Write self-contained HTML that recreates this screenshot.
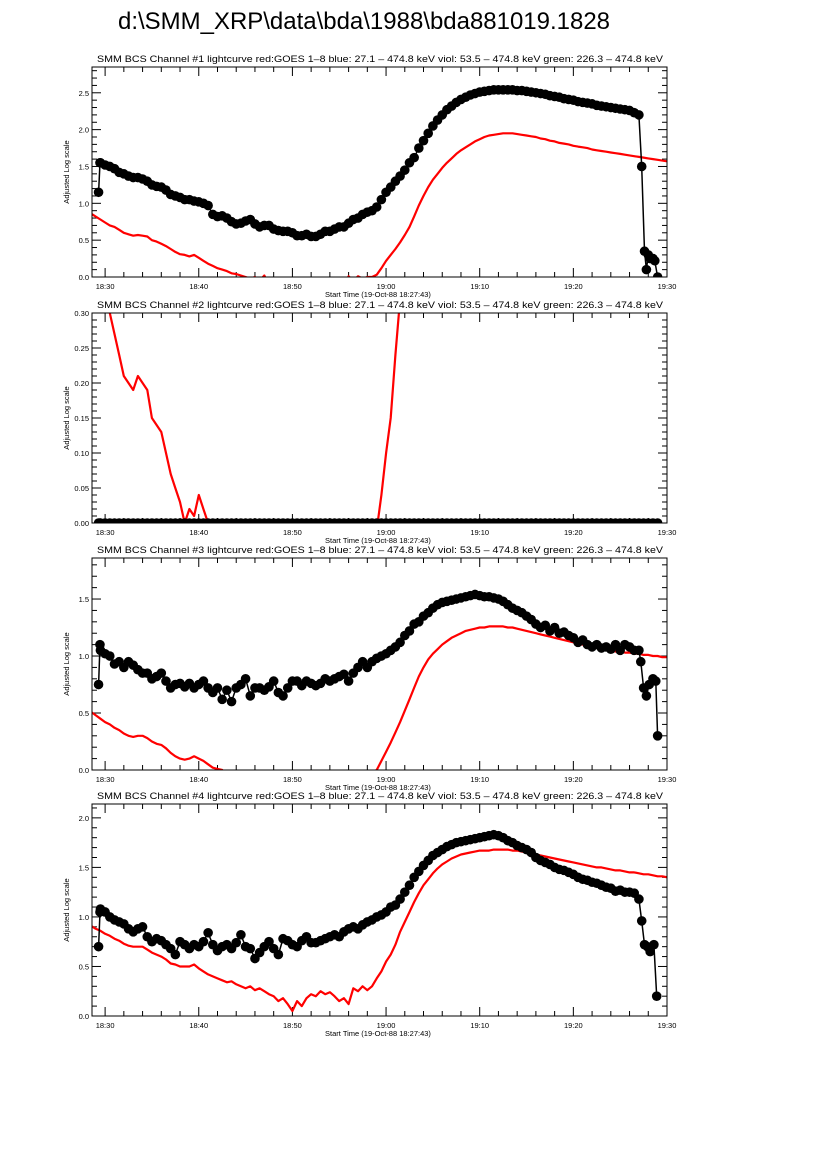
<!DOCTYPE html>
<html><head><meta charset="utf-8"><style>
body{margin:0;background:#fff;}
svg{display:block;font-family:"Liberation Sans",sans-serif;}
</style></head><body>
<svg id="chart" width="826" height="1169" viewBox="0 0 826 1169">
<text x="364" y="29" font-size="24" text-anchor="middle" textLength="492" lengthAdjust="spacingAndGlyphs">d:\SMM_XRP\data\bda\1988\bda881019.1828</text>
</svg>
<script>
// time grids (minutes after 18:00)
const redTimes = []; for (let i = 0; i <= 123; i++) redTimes.push(28.5 + 0.5 * i);
const blackTimes = []; for (let i = 0; i <= 115; i++) blackTimes.push(29.5 + 0.5 * i);
const xTickMinutes = [30, 40, 50, 60, 70, 80, 90];
const xTickLabels = ["18:30", "18:40", "18:50", "19:00", "19:10", "19:20", "19:30"];

const p1Black = [1.55,1.52,1.50,1.47,1.42,1.40,1.37,1.35,1.35,1.33,1.30,1.25,1.23,1.22,1.18,1.12,1.10,1.08,1.05,1.05,1.03,1.02,1.00,0.97,0.85,0.82,0.83,0.80,0.75,0.72,0.73,0.76,0.78,0.72,0.68,0.70,0.70,0.65,0.63,0.62,0.62,0.60,0.56,0.56,0.58,0.55,0.55,0.58,0.62,0.62,0.65,0.68,0.68,0.73,0.78,0.80,0.85,0.88,0.90,0.95,1.05,1.15,1.22,1.30,1.37,1.45,1.55,1.62,1.75,1.85,1.95,2.05,2.13,2.20,2.27,2.32,2.37,2.41,2.44,2.47,2.49,2.51,2.52,2.53,2.54,2.54,2.54,2.54,2.54,2.53,2.53,2.52,2.51,2.50,2.49,2.48,2.46,2.45,2.44,2.42,2.41,2.40,2.38,2.37,2.36,2.35,2.33,2.32,2.31,2.30,2.29,2.28,2.27,2.26,2.23,2.20];
const p1HeadT = [29.3, 29.45], p1HeadV = [1.15, 1.55];
const p1TailT = [87.3, 87.6, 87.8, 88.0, 88.2, 88.5, 88.7, 89.0], p1TailV = [1.50, 0.35, 0.10, 0.30, 0.25, 0.25, 0.22, 0.0];
const p1Red = [0.86,0.82,0.78,0.74,0.70,0.68,0.64,0.60,0.58,0.56,0.57,0.56,0.55,0.50,0.48,0.45,0.42,0.38,0.34,0.31,0.30,0.28,0.30,0.26,0.22,0.18,0.15,0.12,0.10,0.08,0.05,0.04,0.02,0.00,-0.02,0.0,-0.05,0.02,-0.1,-0.1,-0.1,-0.1,-0.1,-0.1,-0.1,-0.1,-0.1,-0.1,-0.1,-0.1,-0.1,-0.1,-0.1,-0.1,-0.1,0.01,-0.05,0.01,-0.02,0.0,0.0,0.03,0.12,0.22,0.30,0.38,0.47,0.57,0.68,0.82,0.97,1.10,1.22,1.32,1.40,1.48,1.55,1.61,1.67,1.72,1.76,1.80,1.84,1.87,1.90,1.92,1.93,1.94,1.95,1.95,1.95,1.94,1.93,1.92,1.91,1.90,1.88,1.87,1.85,1.84,1.82,1.81,1.80,1.78,1.77,1.76,1.75,1.73,1.72,1.71,1.70,1.69,1.68,1.67,1.66,1.65,1.64,1.63,1.62,1.61,1.60,1.59,1.58,1.57];

const p2Black = [0,0,0,0,0,0,0,0,0,0,0,0,0,0,0,0,0,0,0,0,0,0,0,0,0,0,0,0,0,0,0,0,0,0,0,0,0,0,0,0,0,0,0,0,0,0,0,0,0,0,0,0,0,0,0,0,0,0,0,0,0,0,0,0,0,0,0,0,0,0,0,0,0,0,0,0,0,0,0,0,0,0,0,0,0,0,0,0,0,0,0,0,0,0,0,0,0,0,0,0,0,0,0,0,0,0,0,0,0,0,0,0,0,0,0,0];
const p2HeadT = [29.3, 29.45], p2HeadV = [0, 0];
const p2TailT = [87.5, 88.0, 88.5, 89.0], p2TailV = [0, 0, 0, 0];
const p2Red = [0.50,0.45,0.40,0.34,0.30,0.27,0.24,0.21,0.20,0.19,0.21,0.20,0.19,0.15,0.14,0.13,0.10,0.07,0.05,0.03,0.0,0.02,0.01,0.04,0.02,0.0,-0.05,-0.05,-0.05,-0.05,-0.05,-0.05,-0.05,-0.05,-0.05,-0.05,-0.05,-0.05,-0.05,-0.05,-0.05,-0.05,-0.05,-0.05,-0.05,-0.05,-0.05,-0.05,-0.05,-0.05,-0.05,-0.05,-0.05,-0.05,-0.05,-0.05,-0.05,-0.05,-0.05,-0.05,-0.05,-0.01,0.04,0.10,0.15,0.24,0.32,0.45,0.6,0.8,1.0,1.2,1.3,1.4,1.5,1.6,1.7,1.8,1.8,1.9,1.9,1.9,1.9,1.9,1.9,1.9,1.9,1.9,1.9,1.9,1.9,1.9,1.9,1.9,1.9,1.9,1.9,1.9,1.9,1.9,1.9,1.9,1.9,1.9,1.9,1.9,1.9,1.9,1.9,1.9,1.9,1.9,1.9,1.9,1.9,1.9,1.9,1.9,1.9,1.9,1.9,1.9,1.9,1.9];

const p3Black = [1.05,1.02,1.00,0.93,0.95,0.90,0.95,0.92,0.88,0.85,0.85,0.80,0.82,0.85,0.78,0.72,0.75,0.76,0.73,0.76,0.72,0.75,0.78,0.72,0.68,0.72,0.62,0.70,0.60,0.72,0.75,0.80,0.65,0.72,0.72,0.70,0.73,0.78,0.68,0.65,0.72,0.78,0.78,0.74,0.78,0.76,0.74,0.76,0.80,0.78,0.80,0.82,0.84,0.78,0.85,0.90,0.95,0.90,0.95,0.98,1.00,1.02,1.05,1.08,1.12,1.18,1.22,1.28,1.30,1.35,1.38,1.42,1.45,1.47,1.48,1.49,1.50,1.51,1.52,1.53,1.54,1.53,1.52,1.52,1.51,1.50,1.48,1.45,1.42,1.40,1.38,1.35,1.32,1.28,1.25,1.27,1.22,1.25,1.20,1.21,1.18,1.16,1.12,1.14,1.10,1.08,1.10,1.07,1.08,1.06,1.10,1.05,1.10,1.08,1.05,1.05];
const p3HeadT = [29.3, 29.45], p3HeadV = [0.75, 1.10];
const p3TailT = [87.2, 87.5, 87.8, 88.1, 88.5, 88.8, 89.0], p3TailV = [0.95, 0.72, 0.65, 0.75, 0.80, 0.78, 0.30];
const p3Red = [0.51,0.48,0.45,0.42,0.40,0.37,0.35,0.32,0.30,0.29,0.30,0.30,0.28,0.25,0.23,0.22,0.19,0.15,0.12,0.10,0.09,0.10,0.12,0.10,0.08,0.05,0.02,0.01,0.0,-0.05,-0.1,-0.1,-0.1,-0.1,-0.1,-0.1,-0.1,-0.1,-0.1,-0.1,-0.1,-0.1,-0.1,-0.1,-0.1,-0.1,-0.1,-0.1,-0.1,-0.1,-0.1,-0.1,-0.1,-0.1,-0.1,-0.1,-0.1,-0.1,-0.1,-0.1,-0.02,0.0,0.08,0.16,0.24,0.33,0.42,0.52,0.62,0.72,0.82,0.90,0.97,1.02,1.06,1.10,1.13,1.16,1.18,1.20,1.22,1.23,1.24,1.25,1.25,1.26,1.26,1.26,1.26,1.25,1.25,1.24,1.23,1.22,1.21,1.20,1.19,1.18,1.17,1.16,1.15,1.14,1.13,1.12,1.11,1.10,1.09,1.08,1.07,1.06,1.06,1.05,1.04,1.04,1.03,1.03,1.02,1.02,1.01,1.01,1.00,1.00,0.99,0.99];

const p4Black = [1.08,1.05,1.00,0.97,0.95,0.93,0.88,0.85,0.88,0.90,0.80,0.75,0.78,0.76,0.72,0.68,0.62,0.75,0.72,0.68,0.72,0.70,0.75,0.84,0.72,0.66,0.70,0.72,0.68,0.74,0.82,0.70,0.68,0.58,0.64,0.70,0.75,0.68,0.62,0.78,0.76,0.72,0.70,0.76,0.80,0.74,0.74,0.76,0.78,0.80,0.82,0.80,0.85,0.88,0.90,0.88,0.92,0.95,0.97,1.00,1.02,1.05,1.10,1.12,1.18,1.25,1.32,1.40,1.46,1.52,1.57,1.62,1.65,1.68,1.71,1.73,1.75,1.76,1.77,1.78,1.79,1.80,1.81,1.82,1.83,1.82,1.80,1.77,1.75,1.72,1.70,1.68,1.65,1.60,1.57,1.55,1.53,1.50,1.48,1.47,1.45,1.43,1.40,1.38,1.37,1.35,1.34,1.32,1.30,1.29,1.26,1.27,1.25,1.25,1.24,1.18];
const p4HeadT = [29.3, 29.45], p4HeadV = [0.70, 1.05];
const p4TailT = [87.3, 87.6, 87.9, 88.2, 88.6, 88.9], p4TailV = [0.96, 0.72, 0.70, 0.65, 0.72, 0.20];
const p4Red = [0.91,0.88,0.86,0.83,0.81,0.78,0.76,0.73,0.71,0.70,0.70,0.70,0.67,0.64,0.62,0.60,0.57,0.53,0.52,0.50,0.50,0.50,0.52,0.48,0.45,0.42,0.40,0.38,0.36,0.34,0.35,0.32,0.30,0.28,0.30,0.26,0.28,0.25,0.22,0.20,0.15,0.18,0.12,0.05,0.15,0.10,0.18,0.22,0.20,0.25,0.22,0.24,0.20,0.15,0.18,0.12,0.28,0.25,0.30,0.26,0.30,0.38,0.45,0.55,0.62,0.72,0.85,0.95,1.05,1.15,1.24,1.32,1.38,1.44,1.49,1.53,1.56,1.59,1.61,1.63,1.64,1.65,1.66,1.67,1.67,1.67,1.68,1.68,1.68,1.68,1.67,1.67,1.66,1.65,1.64,1.63,1.62,1.61,1.60,1.59,1.58,1.57,1.56,1.55,1.54,1.53,1.52,1.51,1.50,1.50,1.49,1.48,1.47,1.47,1.46,1.45,1.45,1.44,1.43,1.43,1.42,1.41,1.41,1.40];

const p1YTicks = [0, 0.5, 1.0, 1.5, 2.0, 2.5];
const p2YTicks = [0, 0.05, 0.10, 0.15, 0.20, 0.25, 0.30];
const p3YTicks = [0, 0.5, 1.0, 1.5];
const p4YTicks = [0, 0.5, 1.0, 1.5, 2.0];

const panels = [
  {n:1, top:67, bottom:277, ymax:2.85, yt:p1YTicks, minor:0.1, dec:1, black:p1Black, hT:p1HeadT, hV:p1HeadV, tT:p1TailT, tV:p1TailV, red:p1Red},
  {n:2, top:313, bottom:523, ymax:0.30, yt:p2YTicks, minor:0.01, dec:2, black:p2Black, hT:p2HeadT, hV:p2HeadV, tT:p2TailT, tV:p2TailV, red:p2Red},
  {n:3, top:558, bottom:770, ymax:1.86, yt:p3YTicks, minor:0.1, dec:1, black:p3Black, hT:p3HeadT, hV:p3HeadV, tT:p3TailT, tV:p3TailV, red:p3Red},
  {n:4, top:804, bottom:1016, ymax:2.14, yt:p4YTicks, minor:0.1, dec:1, black:p4Black, hT:p4HeadT, hV:p4HeadV, tT:p4TailT, tV:p4TailV, red:p4Red}
];
const X0 = 92, X1 = 667, TMIN = 28.6, TMAX = 90;
const NS = "http://www.w3.org/2000/svg";
const svg = document.getElementById('chart');
function mk(tag, attrs, parent) {
  const e = document.createElementNS(NS, tag);
  for (const k in attrs) e.setAttribute(k, attrs[k]);
  (parent || svg).appendChild(e);
  return e;
}
const xs = t => X0 + (t - TMIN) / (TMAX - TMIN) * (X1 - X0);

panels.forEach(p => {
  const ys = v => p.bottom - v / p.ymax * (p.bottom - p.top);
  const g = mk('g', {});
  
  
  const defs = mk('defs', {}, g);
  const cp = mk('clipPath', {id: 'clip' + p.n}, defs);
  mk('rect', {x: X0, y: p.top, width: X1 - X0, height: p.bottom - p.top}, cp);

  const title = mk('text', {x: 97, y: p.top - 5, 'font-size': 9, textLength: 566, lengthAdjust: 'spacingAndGlyphs'}, g);
  title.textContent = 'SMM BCS Channel #' + p.n + ' lightcurve  red:GOES 1\u20138  blue: 27.1 \u2013 474.8 keV  viol: 53.5 \u2013 474.8 keV  green: 226.3 \u2013 474.8 keV';
  title.setAttribute('xml:space', 'preserve');
  
  

  const yl = mk('text', {x: 0, y: 0, 'font-size': 7.5, 'text-anchor': 'middle', transform: 'translate(' + 69 + ',' + ((p.top + p.bottom) / 2) + ') rotate(-90)'}, g);
  yl.textContent = 'Adjusted Log scale';
  
  

  const xl = mk('text', {x: 378, y: p.bottom + 20, 'font-size': 7.5, 'text-anchor': 'middle'}, g);
  xl.textContent = 'Start Time (19-Oct-88 18:27:43)';
  
  

  const ax = mk('g', {stroke: '#000', 'stroke-width': 1}, g);
  
  
  for (let m = 30; m <= 90; m += 2) {
    const x = xs(m), L = (m % 10 === 0) ? 9 : 5;
    mk('line', {x1: x, x2: x, y1: p.bottom, y2: p.bottom - L}, ax);
    mk('line', {x1: x, x2: x, y1: p.top, y2: p.top + L}, ax);
  }
  for (let k = 0; k * p.minor <= p.ymax + 1e-9; k++) {
    const v = k * p.minor, y = ys(v);
    const major = p.yt.some(t => Math.abs(t - v) < 1e-6);
    const L = major ? 9 : 5;
    mk('line', {x1: X0, x2: X0 + L, y1: y, y2: y}, ax);
    mk('line', {x1: X1, x2: X1 - L, y1: y, y2: y}, ax);
  }
  p.yt.forEach(v => {
    const t = mk('text', {x: X0 - 3, y: ys(v) + 3, 'font-size': 7.5, 'text-anchor': 'end'}, g);
    t.textContent = v.toFixed(p.dec);
    
    
  });
  xTickMinutes.forEach((m, i) => {
    const t = mk('text', {x: xs(m), y: p.bottom + 12, 'font-size': 7.5, 'text-anchor': 'middle'}, g);
    t.textContent = xTickLabels[i];
    
    
  });

  const data = mk('g', {'clip-path': 'url(#clip' + p.n + ')'}, g);
  let d = '';
  p.red.forEach((v, i) => { d += (i ? 'L' : 'M') + xs(redTimes[i]).toFixed(1) + ',' + ys(v).toFixed(1); });
  const rl = mk('path', {d: d, fill: 'none', stroke: '#ff0000', 'stroke-width': 2.2, 'stroke-linejoin': 'round'}, data);
  
  

  const T = p.hT.concat(blackTimes, p.tT), V = p.hV.concat(p.black, p.tV);
  let bd = '';
  T.forEach((t, i) => { bd += (i ? 'L' : 'M') + xs(t).toFixed(1) + ',' + ys(V[i]).toFixed(1); });
  const bl = mk('path', {d: bd, fill: 'none', stroke: '#000', 'stroke-width': 1.5}, data);
  
  
  T.forEach((t, i) => {
    const c = mk('circle', {cx: xs(t), cy: ys(V[i]), r: 4.8, fill: '#000'}, data);
    
    
  });

  const frame = mk('rect', {x: X0, y: p.top, width: X1 - X0, height: p.bottom - p.top, fill: 'none', stroke: '#000', 'stroke-width': 1}, g);
  
  
});
</script>
</body></html>
